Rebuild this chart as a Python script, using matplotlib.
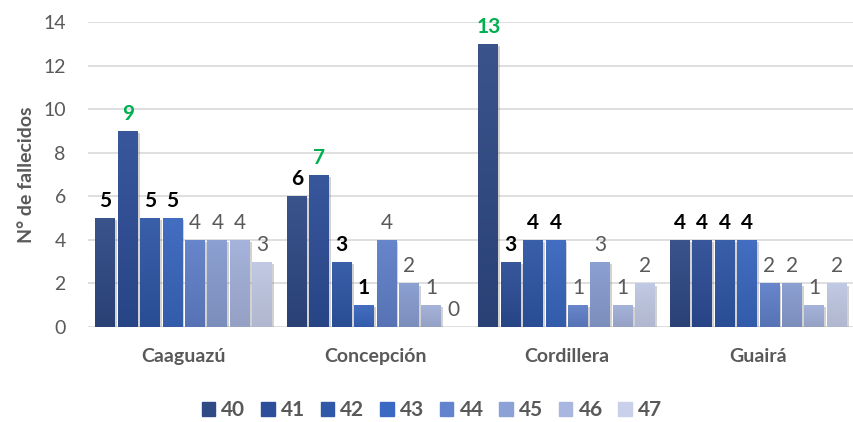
import numpy as np
import matplotlib
matplotlib.use("Agg")
import matplotlib.pyplot as plt
from matplotlib.colors import to_rgb
from matplotlib import patheffects as pe

categories = ["Caaguazú", "Concepción", "Cordillera", "Guairá"]
series_names = ["40", "41", "42", "43", "44", "45", "46", "47"]
values = {
    "40": [5, 6, 13, 4],
    "41": [9, 7, 3, 4],
    "42": [5, 3, 4, 4],
    "43": [5, 1, 4, 4],
    "44": [4, 4, 1, 2],
    "45": [4, 2, 3, 2],
    "46": [4, 1, 1, 1],
    "47": [3, 0, 2, 2],
}
colors = ["#2F4A85", "#2D4E98", "#2F58A8", "#3A68C2", "#6383CE", "#8CA1D5", "#A9B6DF", "#C8D0EA"]
yticks = [0, 2, 4, 6, 8, 10, 12, 14]

plt.rcParams['font.family'] = ['Lato', 'DejaVu Sans']
fig = plt.figure(figsize=(8.54, 4.22), dpi=100)
ax = fig.add_axes([88/854, 1 - 327/422, 766/854, 305/422])

n = len(series_names)
x = np.arange(len(categories))
pitch = 0.117
width = 0.103
gray = "#595959"

for i, s in enumerate(series_names):
    offs = (i - (n - 1) / 2) * pitch
    vals = values[s]
    bars = ax.bar(x + offs, vals, width=width, color=colors[i], zorder=3, linewidth=0,
                  path_effects=[pe.SimplePatchShadow(offset=(1.5, -1.5), shadow_rgbFace="#808080", alpha=0.35), pe.Normal()])
    base = np.array(to_rgb(colors[i]))
    top = base * 0.88 + np.array([0.55, 0.6, 0.72]) * 0.12
    bot = base * 0.88
    grad = np.linspace(0, 1, 64)[:, None, None]
    img = bot[None, None, :] * (1 - grad) + top[None, None, :] * grad
    for b, v in zip(bars, vals):
        if v <= 0:
            continue
        x0, y0 = b.get_x(), b.get_y()
        w, h = b.get_width(), b.get_height()
        im = ax.imshow(img, extent=[x0, x0 + w, y0, y0 + h], origin="lower",
                       aspect="auto", zorder=3.5, interpolation="bilinear")
        im.set_clip_path(b)
    for j, v in enumerate(vals):
        group = [values[t][j] for t in series_names]
        mx = max(group)
        if i < 4:
            if v == mx and group.count(mx) == 1:
                col, fw = "#00B050", "bold"
            else:
                col, fw = "black", "bold"
        else:
            col, fw = gray, "normal"
        ax.annotate(str(v), (x[j] + offs, v), xytext=(0, 5), textcoords="offset points",
                    ha="center", va="bottom", fontsize=15, color=col, fontweight=fw, zorder=5)

ax.set_xlim(-0.5, len(categories) - 0.5)
ax.set_ylim(0, 14)
ax.set_yticks(yticks)
ax.set_xticks(x)
ax.set_xticklabels(categories, fontsize=14, fontweight="bold", color=gray)
ax.tick_params(axis="y", labelsize=14, labelcolor=gray, length=0, pad=16)
ax.tick_params(axis="x", length=0, pad=15)
ax.grid(axis="y", color="#D9D9D9", linewidth=1.2, zorder=0)
for sp in ax.spines.values():
    sp.set_visible(False)
ax.set_ylabel("N° de fallecidos", fontsize=14, fontweight="bold", color=gray, labelpad=6)

handles = [plt.Rectangle((0, 0), 1, 1, color=c) for c in colors]
leg = fig.legend(handles, series_names, loc="center", bbox_to_anchor=(432/854, 1 - 410/422),
                 ncol=8, frameon=False, handlelength=0.65, handleheight=0.65, handletextpad=0.3,
                 columnspacing=0.75, prop={"size": 15, "weight": "bold"})
for t in leg.get_texts():
    t.set_color(gray)

fig.savefig("out.png", dpi=100)
